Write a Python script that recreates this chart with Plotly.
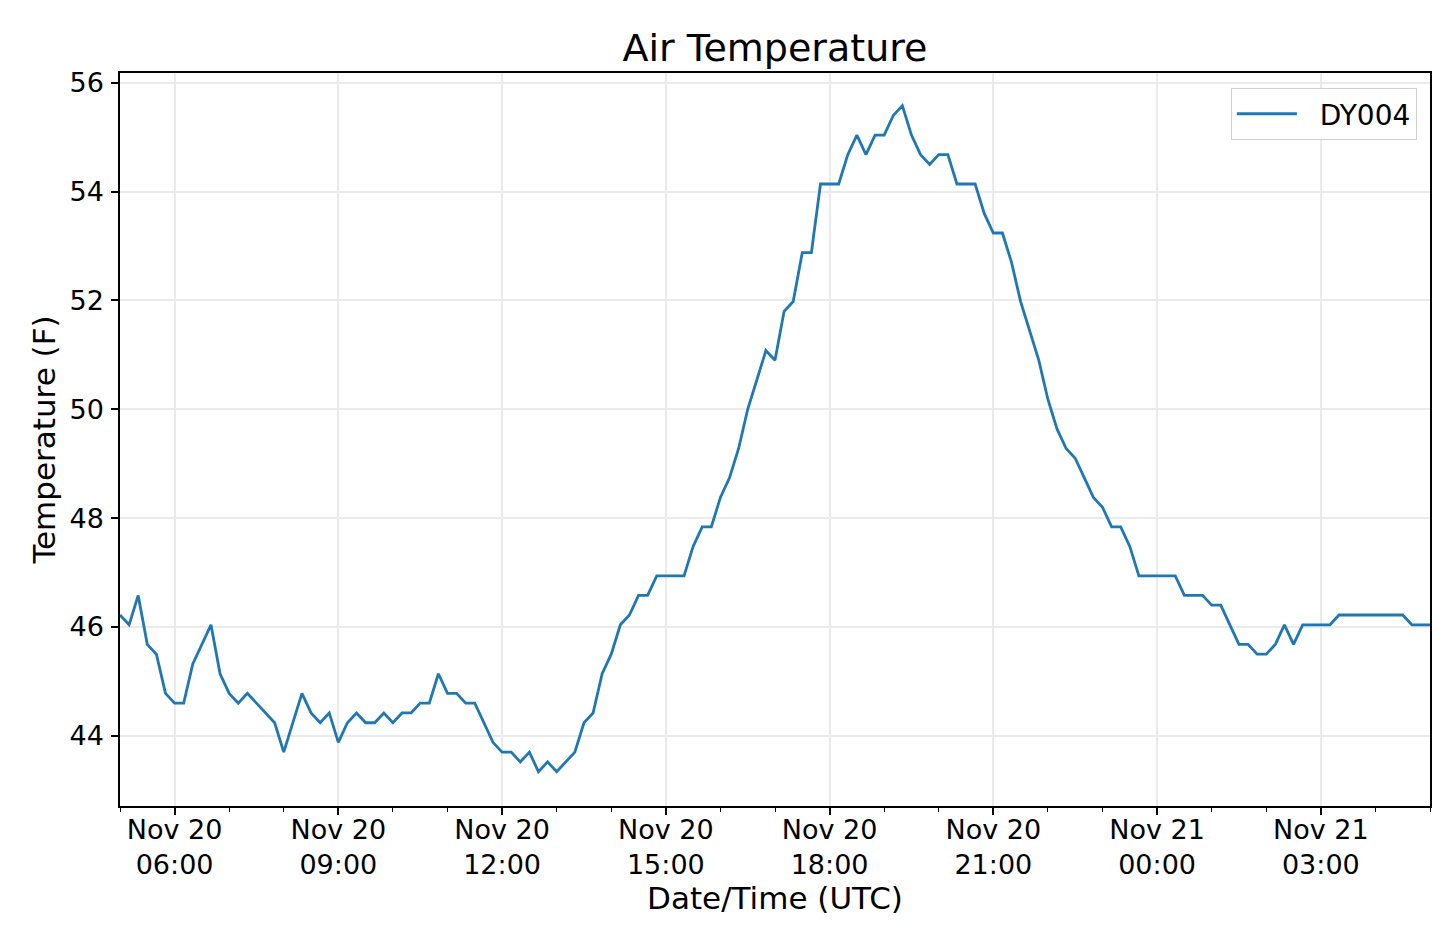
import pandas as pd
import plotly.graph_objects as go

# 10-minute air temperature readings (F), Nov 20 05:00 to Nov 21 05:00 UTC
start_time = "2019-11-20 05:00"
step = "10min"
temps_f = [
    46.22, 46.04, 46.58, 45.68, 45.5, 44.78,
    44.6, 44.6, 45.32, 45.68, 46.04, 45.14,
    44.78, 44.6, 44.78, 44.6, 44.42, 44.24,
    43.7, 44.24, 44.78, 44.42, 44.24, 44.42,
    43.88, 44.24, 44.42, 44.24, 44.24, 44.42,
    44.24, 44.42, 44.42, 44.6, 44.6, 45.14,
    44.78, 44.78, 44.6, 44.6, 44.24, 43.88,
    43.7, 43.7, 43.52, 43.7, 43.34, 43.52,
    43.34, 43.52, 43.7, 44.24, 44.42, 45.14,
    45.5, 46.04, 46.22, 46.58, 46.58, 46.94,
    46.94, 46.94, 46.94, 47.48, 47.84, 47.84,
    48.38, 48.74, 49.28, 50.0, 50.54, 51.08,
    50.9, 51.8, 51.98, 52.88, 52.88, 54.14,
    54.14, 54.14, 54.68, 55.04, 54.68, 55.04,
    55.04, 55.4, 55.58, 55.04, 54.68, 54.5,
    54.68, 54.68, 54.14, 54.14, 54.14, 53.6,
    53.24, 53.24, 52.7, 51.98, 51.44, 50.9,
    50.18, 49.64, 49.28, 49.1, 48.74, 48.38,
    48.2, 47.84, 47.84, 47.48, 46.94, 46.94,
    46.94, 46.94, 46.94, 46.58, 46.58, 46.58,
    46.4, 46.4, 46.04, 45.68, 45.68, 45.5,
    45.5, 45.68, 46.04, 45.68, 46.04, 46.04,
    46.04, 46.04, 46.22, 46.22, 46.22, 46.22,
    46.22, 46.22, 46.22, 46.22, 46.04, 46.04,
    46.04,
]
times = pd.date_range(start_time, periods=len(temps_f), freq=step)

tick_times = [
    "2019-11-20 06:00", "2019-11-20 09:00", "2019-11-20 12:00",
    "2019-11-20 15:00", "2019-11-20 18:00", "2019-11-20 21:00",
    "2019-11-21 00:00", "2019-11-21 03:00",
]
tick_labels = [
    "Nov 20<br>06:00", "Nov 20<br>09:00", "Nov 20<br>12:00",
    "Nov 20<br>15:00", "Nov 20<br>18:00", "Nov 20<br>21:00",
    "Nov 21<br>00:00", "Nov 21<br>03:00",
]
y_ticks = [44, 46, 48, 50, 52, 54, 56]

font = "DejaVu Sans"

fig = go.Figure()
fig.add_trace(go.Scatter(
    x=times, y=temps_f, mode="lines",
    name="\u00a0\u00a0DY004",  # leading gap like the matplotlib legend
    line=dict(color="#1f77b4", width=2.8),
))

fig.update_layout(
    width=1440, height=937,
    paper_bgcolor="white", plot_bgcolor="white",
    margin=dict(l=112, r=18, t=65, b=139),
    font=dict(family=font, size=27, color="black"),
    title=dict(text="Air Temperature", x=0.5326, xanchor="center",
               y=(937 - 40) / 937, yanchor="middle", yref="container",
               font=dict(size=38, family=font)),
    legend=dict(x=0.99, y=0.9795, xanchor="right", yanchor="top",
                bgcolor="white", bordercolor="#d0d0d0", borderwidth=1,
                itemwidth=60,
                font=dict(size=28, family=font)),
    showlegend=True,
)

fig.update_xaxes(
    range=[times[0], times[-1]],
    tickvals=tick_times, ticktext=tick_labels,
    ticks="outside", ticklen=7, tickwidth=1.5, tickcolor="black",
    ticklabelstandoff=-8,
    showline=True, linecolor="black", linewidth=1.5, mirror=True,
    showgrid=True, gridcolor="#ebebeb", gridwidth=1.5,
    zeroline=False,
    minor=dict(ticks="outside", ticklen=4, tickcolor="black", tickwidth=1,
               dtick=3600000, tick0="2019-11-20 05:00", showgrid=False),
    title=dict(text="Date/Time (UTC)", font=dict(size=31, family=font), standoff=6),
)
fig.update_yaxes(
    range=[42.71, 56.18],
    tickvals=y_ticks,
    ticks="outside", ticklen=7, tickwidth=1.5, tickcolor="black",
    ticklabelstandoff=2,
    showline=True, linecolor="black", linewidth=1.5, mirror=True,
    showgrid=True, gridcolor="#ebebeb", gridwidth=1.5,
    zeroline=False,
    title=dict(text="Temperature (F)", font=dict(size=31, family=font), standoff=5),
)

fig.write_html("out.html")
